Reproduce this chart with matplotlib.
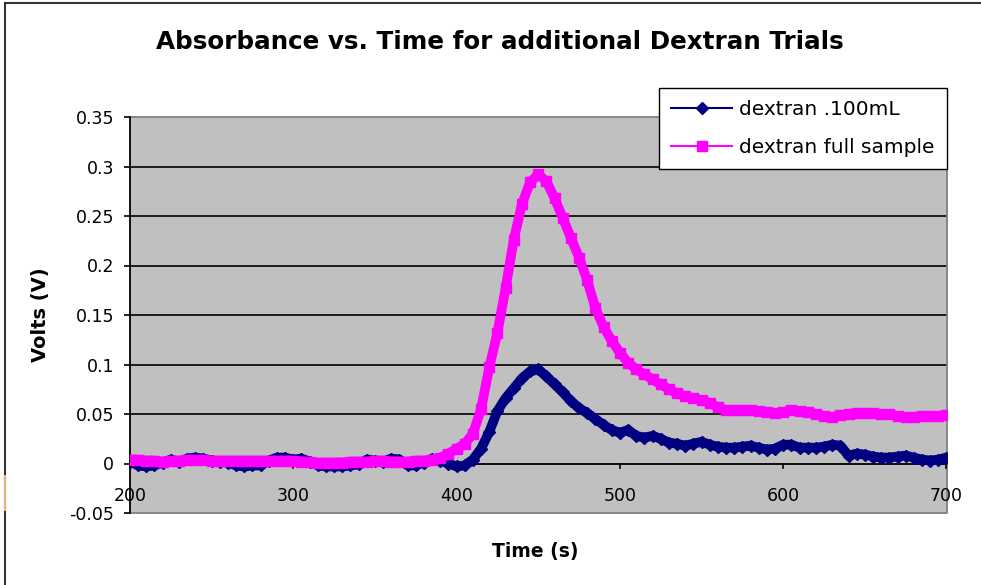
import matplotlib
matplotlib.use("Agg")
import matplotlib.pyplot as plt
from matplotlib.lines import Line2D

# ---------------- data ----------------
time_s = list(range(200, 701, 5))

dextran_100mL = [
    0.002, -0.002, -0.003, -0.002, 0.001, 0.004, 0.002, 0.005, 0.006, 0.005,   # 200-245
    0.003, 0.002, 0.001, -0.002, -0.003, -0.002, -0.002, 0.003, 0.006, 0.006,  # 250-295
    0.004, 0.005, 0.002, -0.002, -0.003, -0.003, -0.003, -0.002, -0.001, 0.004,  # 300-345
    0.003, 0.002, 0.005, 0.004, -0.002, -0.002, 0.001, 0.005, 0.003, 0.000,   # 350-395
    -0.003, -0.002, 0.004, 0.015, 0.032, 0.053, 0.066, 0.076, 0.086, 0.093,   # 400-445
    0.095, 0.088, 0.080, 0.072, 0.063, 0.056, 0.051, 0.045, 0.039, 0.034,     # 450-495
    0.031, 0.034, 0.028, 0.026, 0.028, 0.025, 0.021, 0.020, 0.018, 0.020,     # 500-545
    0.022, 0.019, 0.017, 0.016, 0.016, 0.017, 0.018, 0.016, 0.014, 0.015,     # 550-595
    0.019, 0.019, 0.016, 0.016, 0.016, 0.017, 0.019, 0.018, 0.008, 0.010,     # 600-645
    0.009, 0.007, 0.006, 0.006, 0.007, 0.008, 0.006, 0.004, 0.003, 0.004,     # 650-695
    0.006,                                                                   # 700
]

dextran_full = [
    0.004, 0.004, 0.003, 0.003, 0.002, 0.003, 0.003, 0.004, 0.004, 0.004,     # 200-245
    0.003, 0.003, 0.003, 0.003, 0.003, 0.003, 0.003, 0.003, 0.003, 0.003,     # 250-295
    0.003, 0.002, 0.002, 0.001, 0.001, 0.001, 0.001, 0.002, 0.002, 0.002,     # 300-345
    0.003, 0.003, 0.002, 0.002, 0.002, 0.003, 0.003, 0.004, 0.006, 0.010,     # 350-395
    0.015, 0.020, 0.030, 0.055, 0.097, 0.132, 0.177, 0.226, 0.262, 0.284,     # 400-445
    0.292, 0.285, 0.268, 0.248, 0.228, 0.208, 0.185, 0.157, 0.138, 0.124,     # 450-495
    0.112, 0.102, 0.095, 0.090, 0.085, 0.080, 0.075, 0.071, 0.068, 0.066,     # 500-545
    0.064, 0.061, 0.057, 0.054, 0.054, 0.054, 0.054, 0.053, 0.052, 0.051,     # 550-595
    0.052, 0.054, 0.053, 0.052, 0.050, 0.048, 0.047, 0.049, 0.050, 0.051,     # 600-645
    0.051, 0.051, 0.050, 0.050, 0.048, 0.047, 0.047, 0.048, 0.048, 0.048,     # 650-695
    0.049,                                                                   # 700
]

series_labels = ["dextran .100mL", "dextran full sample"]
x_ticks = [200, 300, 400, 500, 600, 700]
y_ticks = [-0.05, 0, 0.05, 0.1, 0.15, 0.2, 0.25, 0.3, 0.35]
y_tick_labels = ["-0.05", "0", "0.05", "0.1", "0.15", "0.2", "0.25", "0.3", "0.35"]

# ---------------- style ----------------
plt.rcParams['font.family'] = ['DejaVu Sans']
plt.rcParams['axes.unicode_minus'] = False

W, H = 981, 585
fig = plt.figure(figsize=(W / 100, H / 100), dpi=100)
fig.patch.set_facecolor("white")

# axes position in pixels: left 130, right 946.5, top 117, bottom 513
L, R, T, B = 130, 946.5, 117, 513
ax = fig.add_axes([L / W, 1 - B / H, (R - L) / W, (B - T) / H])
ax.set_facecolor("#C0C0C0")
ax.set_xlim(200, 700)
ax.set_ylim(-0.05, 0.35)

# gridlines (black) at interior y ticks
for yv in y_ticks[2:-1]:
    ax.axhline(yv, color="black", lw=1.2, zorder=1)

navy = "#000080"
magenta = "#FF00FF"
ax.plot(time_s, dextran_100mL, color=navy, lw=7, marker="D", ms=6,
        mec=navy, mfc=navy, zorder=3)
ax.plot(time_s, dextran_full, color=magenta, lw=7, marker="s", ms=7.5,
        mec=magenta, mfc=magenta, zorder=4)

# spines
for s in ["top", "right", "bottom"]:
    ax.spines[s].set_visible(False)
ax.spines["left"].set_color("black")
ax.spines["left"].set_linewidth(1.3)
# gray plot-area border
ax.plot([0, 1, 1, 0], [1, 1, 0, 0], transform=ax.transAxes, color="#808080",
        lw=1.3, clip_on=False, zorder=2)
# x axis at y=0
ax.axhline(0, color="black", lw=1.3, zorder=2)

ax.set_xticks(x_ticks)
ax.set_yticks(y_ticks)
ax.set_yticklabels(y_tick_labels)
ax.tick_params(axis="y", direction="out", length=4.5, width=1.2, pad=7,
               labelsize=12.5, color="black")
ax.tick_params(axis="x", length=0, pad=0, labelbottom=False)
for xv in x_ticks:
    ax.plot([xv, xv], [0, -0.0045], color="black", lw=1.2, zorder=2, clip_on=False)
    ax.annotate(str(xv), xy=(xv, 0), xycoords="data", xytext=(0, -17),
                textcoords="offset points", ha="center", va="top", fontsize=12.5,
                color="black", zorder=5)

ax.set_ylabel("Volts (V)", fontsize=14, fontweight="bold")
ax.yaxis.set_label_coords(-0.098, 0.5)
fig.text(535 / W, 1 - 552 / H, "Time (s)", ha="center", va="center",
         fontsize=13.5, fontweight="bold")
fig.text(500 / W, 1 - 42 / H, "Absorbance vs. Time for additional Dextran Trials",
         ha="center", va="center", fontsize=17.7, fontweight="bold")

# legend
handles = [
    Line2D([], [], color=navy, lw=1.5, marker="D", ms=6, mfc=navy, mec=navy),
    Line2D([], [], color=magenta, lw=1.5, marker="s", ms=7, mfc=magenta, mec=magenta),
]
leg = fig.legend(handles, series_labels, loc="upper right",
                 bbox_to_anchor=(946.5 / W, 1 - 88 / H), bbox_transform=fig.transFigure,
                 frameon=True, fancybox=False, shadow=False, fontsize=14.5,
                 handlelength=3.0, handletextpad=0.35, labelspacing=0.95,
                 borderpad=0.6, borderaxespad=0, numpoints=1)
leg.get_frame().set_edgecolor("black")
leg.get_frame().set_linewidth(1.0)
leg.get_frame().set_facecolor("white")
leg.get_frame().set_alpha(1)
leg.set_zorder(10)

# figure border (top and left) + small artifact
fig.add_artist(Line2D([5 / W, 980 / W], [1 - 3 / H, 1 - 3 / H], transform=fig.transFigure,
                      color="#333333", lw=1.5))
fig.add_artist(Line2D([5 / W, 5 / W], [0, 1 - 3 / H], transform=fig.transFigure,
                      color="#333333", lw=1.5))
fig.add_artist(Line2D([5 / W, 5 / W], [1 - 510 / H, 1 - 476 / H], transform=fig.transFigure,
                      color="#F0B070", lw=1.5))

fig.savefig("out.png", dpi=100)
